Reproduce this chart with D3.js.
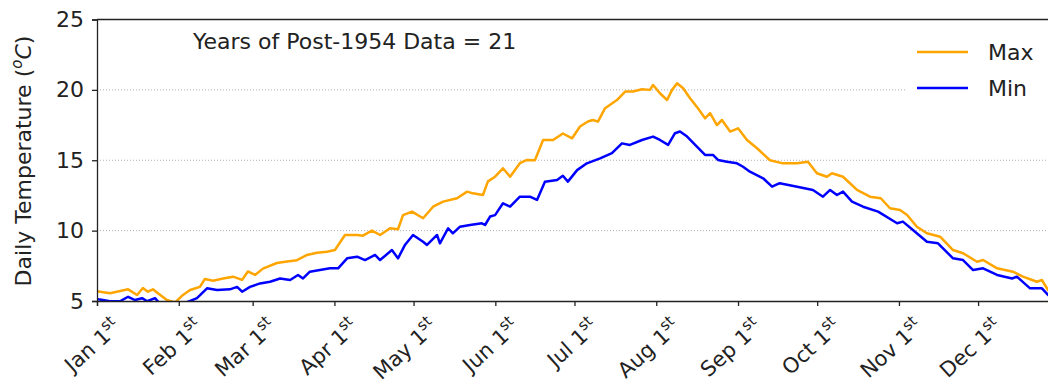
<!DOCTYPE html>
<html><head><meta charset="utf-8">
<script src="https://cdn.jsdelivr.net/npm/d3@7"></script>
<style>
body{margin:0;background:#fff;}
svg{display:block;font-family:"DejaVu Sans",Verdana,sans-serif;}
</style>
</head><body>
<svg id="c" width="1048" height="385"></svg>
<script>
// ---- data ----
const monthStartDays = [0,31,59,90,120,151,181,212,243,273,304,334];
const monthLabels = ["Jan","Feb","Mar","Apr","May","Jun","Jul","Aug","Sep","Oct","Nov","Dec"];
const yTickValues = [5,10,15,20,25];
const gridValues = [10,15,20];
const annotation = "Years of Post-1954 Data = 21";
const seriesNames = ["Max","Min"];

const maxDay = [0,4.9,11.8,15.2,17.4,19.3,21.2,23.1,26.5,29.6,32.6,35.3,39.0,40.9,44.0,47.8,51.6,55.0,57.2,59.9,62.9,68.2,72.0,75.8,79.6,83.4,87.2,90.2,94.0,98.6,100.8,104.2,107.3,111.1,114.1,116.0,119.4,123.6,127.4,131.2,136.5,140.3,142.5,146.3,148.2,150.9,153.9,156.6,160.3,163.0,166.0,169.1,172.9,176.6,180.1,183.1,186.1,188.0,189.9,192.6,197.1,200.2,203.2,206.6,209.6,210.8,213.4,216.1,218.0,219.9,222.2,224.8,227.8,230.5,232.4,235.0,236.9,240.0,243.0,246.4,250.2,255.1,260.0,265.4,269.5,272.9,276.7,278.6,282.8,288.1,293.0,297.1,300.6,304.4,307.1,310.8,314.6,319.6,324.5,328.3,333.6,335.9,341.2,347.2,351.0,356.3,358.2,360.5,364];
const maxTemp = [5.7,5.55,5.83,5.43,5.92,5.66,5.83,5.55,5.07,4.9,5.43,5.78,6.0,6.56,6.44,6.6,6.73,6.5,7.1,6.85,7.3,7.7,7.8,7.9,8.27,8.43,8.5,8.62,9.69,9.69,9.64,10.0,9.69,10.17,10.1,11.1,11.35,10.88,11.7,12.06,12.3,12.77,12.65,12.53,13.5,13.83,14.43,13.83,14.79,15.02,15.0,16.44,16.44,16.9,16.56,17.4,17.75,17.86,17.74,18.7,19.28,19.88,19.88,20.05,20.0,20.35,19.76,19.28,20.0,20.47,20.12,19.4,18.7,17.98,18.34,17.5,17.86,17.04,17.27,16.44,15.85,15.0,14.78,14.78,14.9,14.08,13.83,14.08,13.83,12.89,12.41,12.3,11.59,11.47,11.11,10.28,9.81,9.57,8.62,8.39,7.79,7.91,7.32,7.08,6.73,6.37,6.49,5.78,5.5];

const minDay = [0,1.1,4.9,8.7,11.8,14.4,17.1,19.0,22.0,23.9,29.6,35.3,37.9,41.7,45.5,50.4,53.1,55.0,58.0,61.8,65.6,69.4,73.2,76.2,78.1,80.7,84.5,88.3,91.4,94.8,98.6,101.6,105.4,107.3,111.8,114.1,116.8,119.8,123.6,125.1,128.9,130.0,133.1,134.9,137.6,141.4,145.9,147.1,149.0,150.9,153.9,156.6,160.3,164.1,166.8,169.8,174.4,176.6,178.5,182.0,185.7,190.7,195.2,199.0,202.0,206.6,210.8,213.4,216.5,219.1,221.0,223.7,227.4,230.5,233.5,235.4,238.8,242.6,244.9,247.5,252.5,255.9,258.8,265.4,271.4,275.2,277.9,280.5,282.8,286.2,290.4,296.1,303.3,305.5,309.3,314.6,318.8,324.5,328.3,332.1,335.9,341.2,346.9,348.7,353.7,358.2,360.5,364];
const minTemp = [5.15,5.1,4.98,4.98,5.3,5.07,5.2,4.98,5.2,4.8,4.6,5.0,5.2,5.9,5.78,5.83,6.0,5.66,6.0,6.25,6.37,6.6,6.49,6.85,6.6,7.08,7.2,7.32,7.32,8.03,8.15,7.91,8.27,7.91,8.62,8.03,9.0,9.69,9.21,8.98,9.69,9.1,10.17,9.81,10.28,10.4,10.52,10.4,11.0,11.1,11.94,11.7,12.41,12.41,12.18,13.48,13.6,13.9,13.48,14.3,14.78,15.13,15.5,16.2,16.09,16.44,16.68,16.44,16.09,16.92,17.04,16.68,15.97,15.38,15.38,15.02,14.9,14.78,14.54,14.19,13.72,13.12,13.37,13.12,12.89,12.41,12.89,12.53,12.77,12.06,11.7,11.35,10.52,10.64,10.05,9.21,9.1,8.03,7.91,7.2,7.32,6.85,6.6,6.73,5.9,5.9,5.43,5.2];

// ---- layout ----
const plotLeft = 97, plotTop = 19.5, plotBottom = 301;
const plotRight = 97 + 365 * 2.638;
const svg = d3.select("#c");

const x = d3.scaleLinear().domain([0, 365]).range([plotLeft, plotRight]);
const y = d3.scaleLinear().domain([5, 25]).range([plotBottom, plotTop]);

svg.append("defs").append("clipPath").attr("id","clip")
  .append("rect").attr("x", plotLeft).attr("y", plotTop).attr("width", plotRight - plotLeft).attr("height", plotBottom - plotTop);

// grid
svg.append("g").selectAll("line").data(gridValues).join("line")
  .attr("x1", plotLeft).attr("x2", plotRight)
  .attr("y1", d => y(d)).attr("y2", d => y(d))
  .attr("stroke", "#b0b0b0").attr("stroke-width", 1).attr("stroke-dasharray", "1,2");

// lines
const lineMax = d3.line().x((d,i) => x(maxDay[i])).y(d => y(d));
const lineMin = d3.line().x((d,i) => x(minDay[i])).y(d => y(d));
const gl = svg.append("g").attr("clip-path", "url(#clip)");
gl.append("path").datum(maxTemp).attr("d", lineMax).attr("fill","none")
  .attr("stroke", "#ffa500").attr("stroke-width", 2.5).attr("stroke-linejoin","round");
gl.append("path").datum(minTemp).attr("d", lineMin).attr("fill","none")
  .attr("stroke", "#0000ff").attr("stroke-width", 2.5).attr("stroke-linejoin","round");

// axes
const yAxis = d3.axisLeft(y).tickValues(yTickValues).tickSize(5).tickPadding(8).tickFormat(d3.format("d"));
const gy = svg.append("g").attr("transform", `translate(${plotLeft},0)`).call(yAxis);
gy.select(".domain").attr("stroke", "#222").attr("stroke-width", 1.3);
gy.selectAll(".tick line").attr("stroke", "#222").attr("stroke-width", 1.3);
gy.selectAll(".tick text").attr("font-size", 22).attr("fill", "#222").attr("font-family", "DejaVu Sans");

const xAxis = d3.axisBottom(x).tickValues(monthStartDays).tickSize(5).tickFormat("");
const gx = svg.append("g").attr("transform", `translate(0,${plotBottom})`).call(xAxis);
gx.select(".domain").attr("stroke", "#222").attr("stroke-width", 1.3);
gx.selectAll(".tick line").attr("stroke", "#222").attr("stroke-width", 1.3);

// rotated month labels with superscript
const lab = svg.append("g").selectAll("text").data(monthStartDays).join("text")
  .attr("text-anchor", "end")
  .attr("font-size", 21).attr("fill", "#222")
  .attr("transform", d => `translate(${x(d) + 25},${plotBottom + 28}) rotate(-42)`);
lab.append("tspan").text((d,i) => monthLabels[i] + " 1");
lab.append("tspan").attr("font-size", 15).attr("dy", -9).text("st");

// top spine
svg.append("line").attr("x1", plotLeft).attr("x2", plotRight).attr("y1", plotTop).attr("y2", plotTop)
  .attr("stroke", "#222").attr("stroke-width", 1.3);

// y label
const yl = svg.append("text").attr("text-anchor", "middle").attr("font-size", 22).attr("fill", "#222")
  .attr("transform", `translate(31,161) rotate(-90)`);
yl.append("tspan").text("Daily Temperature (");
yl.append("tspan").attr("font-size", 15).attr("dy", -9).attr("font-style","italic").text("o");
yl.append("tspan").attr("dy", 9).attr("font-style","italic").text("C");
yl.append("tspan").text(")");

// annotation
svg.append("text").attr("x", 193).attr("y", 49).attr("font-size", 22).attr("fill", "#222").text(annotation);

// legend
const leg = svg.append("g");
leg.append("rect").attr("x", 905).attr("y", 30).attr("width", 150).attr("height", 76).attr("fill", "#fff");
const legColors = ["#ffa500", "#0000ff"];
const legY = [52, 88];
seriesNames.forEach((n, i) => {
  leg.append("line").attr("x1", 917).attr("x2", 968).attr("y1", legY[i]).attr("y2", legY[i])
    .attr("stroke", legColors[i]).attr("stroke-width", 2.5);
  leg.append("text").attr("x", 988).attr("y", legY[i]).attr("dy", "0.36em")
    .attr("font-size", 22).attr("fill", "#222").text(n);
});
</script>
</body></html>
